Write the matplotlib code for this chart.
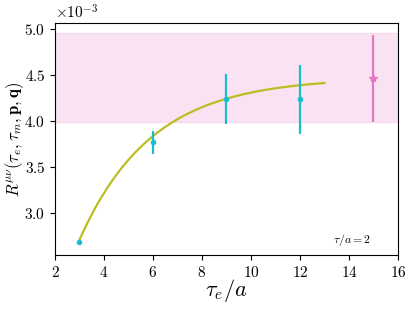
import numpy as np
import matplotlib
matplotlib.use("Agg")
import matplotlib.pyplot as plt
from matplotlib.ticker import ScalarFormatter

plt.rcParams['font.family'] = 'serif'
plt.rcParams['font.serif'] = ['cmr10', 'DejaVu Serif']
plt.rcParams['mathtext.fontset'] = 'cm'
plt.rcParams['axes.formatter.use_mathtext'] = True
plt.rcParams['axes.unicode_minus'] = True

# data (values in units of 1e-3, scaled below)
tau_e = [3, 6, 9, 12]
R_vals = [2.685, 3.772, 4.239, 4.242]
R_errs = [0.02, 0.125, 0.27, 0.375]

tau_extrap = [15]
R_extrap = [4.467]
R_extrap_err = [0.475]

band_center = 4.477
band_half = 0.48

# fit model parameters: A - B*exp(-c*x)
fit_A = 4.475
fit_B = 4.89
fit_c = 0.34
fit_range = (3, 13)

scale = 1e-3

fig = plt.figure(figsize=(4.15, 3.11), dpi=100)
ax = fig.add_axes([0.1325, 0.179, 0.8265, 0.747])

ax.axhspan((band_center - band_half) * scale, (band_center + band_half) * scale,
           color='#e377c2', alpha=0.2, lw=0.8)

xf = np.linspace(fit_range[0], fit_range[1], 200)
yf = (fit_A - fit_B * np.exp(-fit_c * xf)) * scale
ax.plot(xf, yf, color='#bcbd22', lw=1.6, zorder=2)

ax.errorbar(tau_e, np.array(R_vals) * scale, yerr=np.array(R_errs) * scale,
            fmt='o', color='#17becf', ms=3, elinewidth=1.6, capsize=0, zorder=3)
ax.errorbar(tau_extrap, np.array(R_extrap) * scale, yerr=np.array(R_extrap_err) * scale,
            fmt='*', color='#e377c2', ms=6, elinewidth=1.6, capsize=0, zorder=3)

ax.set_xlim(2, 16)
ax.set_ylim(2.543e-3, 5.068e-3)
ax.set_xticks([2, 4, 6, 8, 10, 12, 14, 16])
ax.set_yticks([3.0e-3, 3.5e-3, 4.0e-3, 4.5e-3, 5.0e-3])
fmt = ScalarFormatter(useMathText=True)
fmt.set_powerlimits((-3, -3))
ax.yaxis.set_major_formatter(fmt)
ax.tick_params(labelsize=11)
ax.yaxis.get_offset_text().set_fontsize(11)

ax.set_xlabel(r'$\tau_e/a$', fontsize=16, va='center')
ax.xaxis.set_label_coords(0.5, -0.152)
ax.set_ylabel(r'$R^{\mu\nu}(\tau_e,\tau_m,\mathbf{p},\mathbf{q})$', fontsize=12, va='center')
ax.yaxis.set_label_coords(-0.118, 0.5)
ax.text(14.1, 2.71e-3, r'$\tau/a=2$', fontsize=8.5, ha='center', va='center')

fig.savefig('out.png', dpi=100)
